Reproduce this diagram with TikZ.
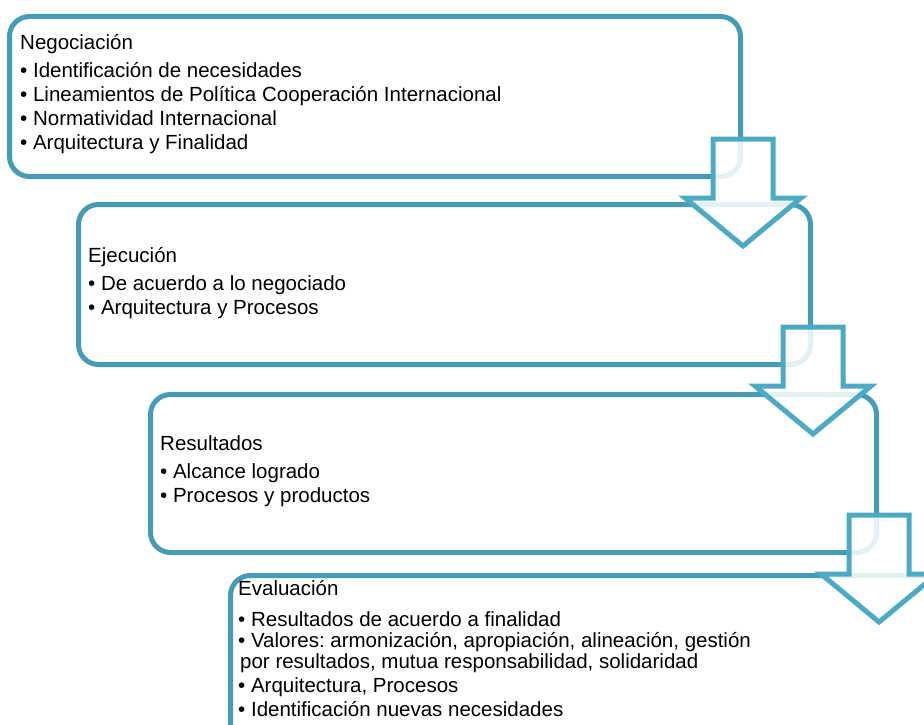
\documentclass[tikz,border=0pt]{standalone}
\usepackage{fontspec}
\setmainfont{Liberation Sans}
\usetikzlibrary{positioning}
\frenchspacing
\definecolor{boxline}{RGB}{70,156,182}
\definecolor{arrline}{RGB}{75,170,196}
\tikzset{
	box/.style={draw=boxline, line width=5pt, rounded corners=20pt, anchor=north west, inner sep=0pt},
	txt/.style={anchor=north west, align=left, inner sep=0pt, font=\fontsize{20.5}{24}\selectfont},
	blockarrow/.style={draw=arrline, line width=5pt, fill=white, fill opacity=0.85, line join=miter}
}
\begin{document}
\begin{tikzpicture}[x=1pt, y=-1pt]
			\clip (0,0) rectangle (924,725);
			\node (neg) [box, minimum width=731pt, minimum height=160pt] at (7,14) {};
			\node (eje) [box, minimum width=732pt, minimum height=160pt] at (76,202) {};
			\node (res) [box, minimum width=726pt, minimum height=158pt] at (148,392) {};
			\node (eva) [box, minimum width=800pt, minimum height=200pt] at (228,573) {};
			\node (tneg) [txt] at (20,34) {Negociación\\[4pt]
				• Identificación de necesidades\\
				• Lineamientos de Política Cooperación Internacional\\
				• Normatividad Internacional\\
				• Arquitectura y Finalidad};
			\node (teje) [txt] at (88,247) {Ejecución\\[4pt]
				• De acuerdo a lo negociado\\
				• Arquitectura y Procesos};
			\node (tres) [txt] at (160,435) {Resultados\\[4pt]
				• Alcance logrado\\
				• Procesos y productos};
			\node (teva) [txt] at (238,580) {Evaluación\\[7pt]
				• Resultados de acuerdo a finalidad\\[-3pt]
				• Valores: armonización, apropiación, alineación, gestión\\[-3pt]
				\hspace{2pt}por resultados, mutua responsabilidad, solidaridad\\
				• Arquitectura, Procesos\\
				• Identificación nuevas necesidades};
			\foreach \b in {neg, eje, res}
				\draw [blockarrow] ([shift={(-30,-40)}]\b.south east) -- ++(60,0) -- ++(0,59)
					-- ++(28,0) -- ++(-58,48) -- ++(-58,-48) -- ++(28,0) -- cycle;
		\end{tikzpicture}
\end{document}
